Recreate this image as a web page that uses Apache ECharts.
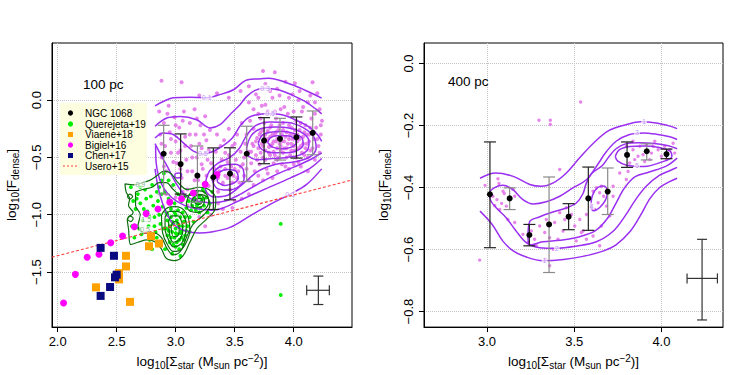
<!DOCTYPE html>
<html>
<head>
<meta charset="utf-8">
<script src="https://cdn.jsdelivr.net/npm/echarts@6.0.0/dist/echarts.min.js"></script>
<style>
  html, body { margin: 0; padding: 0; background: #fff; }
  #chart { width: 747px; height: 375px; }
</style>
</head>
<body>
<div id="chart"></div>
<script>
// ---- left panel (100 pc) ----
const leftX = [2.898, 3.042, 3.184, 3.319, 3.460, 3.602, 3.749, 3.884, 4.023, 4.161];
const leftY = [-0.468, -0.558, -0.659, -0.673, -0.642, -0.468, -0.353, -0.338, -0.324, -0.286];
const leftHi = [-0.22, -0.295, -0.40, -0.417, -0.416, -0.228, -0.153, -0.159, -0.147, -0.095];
const leftLo = [-0.82, -0.82, -0.89, -0.954, -0.87, -0.71, -0.555, -0.523, -0.506, -0.477];
const leftDark = [0, 1, 0, 1, 1, 0, 1, 0, 1, 0];
const leftCross = [4.209, -1.659, 4.110, 4.302, -1.783, -1.535];

const bigielX = [2.05, 2.15, 2.25, 2.35, 2.45, 2.55, 2.65, 2.75, 2.85, 2.95, 3.05, 3.15, 3.25, 3.35];
const bigielY = [-1.77, -1.52, -1.37, -1.345, -1.245, -1.185, -1.105, -0.99, -0.95, -0.89, -0.86, -0.81, -0.735, -0.65];
const viaeneX = [2.325, 2.52, 2.52, 2.579, 2.579, 2.613, 2.774, 2.791, 2.859];
const viaeneY = [-1.633, -1.564, -1.509, -1.451, -1.358, -1.760, -1.275, -1.188, -1.251];
const chenX = [2.364, 2.364, 2.444, 2.477, 2.486, 2.50];
const chenY = [-1.289, -1.708, -1.630, -1.358, -1.546, -1.523];
const useroX = [1.95, 4.5];
const useroY = [-1.370, -0.695];

const quer = [[2.62,-0.76],[2.64,-0.88],[2.66,-0.95],[2.63,-1.10],[2.65,-1.20],[2.68,-0.82],[2.70,-0.90],[2.72,-1.05],
  [2.71,-1.17],[2.74,-0.78],[2.75,-0.86],[2.76,-0.97],[2.77,-1.10],[2.78,-1.22],[2.80,-0.74],[2.81,-0.92],[2.82,-1.02],
  [2.83,-1.15],[2.84,-0.80],[2.85,-0.88],[2.86,-1.00],[2.87,-1.08],[2.87,-1.25],[2.88,-0.70],[2.89,-0.93],[2.90,-0.64],
  [2.90,-1.12],[2.91,-0.80],[2.91,-1.30],[2.92,-0.98],[2.93,-1.05],[2.93,-1.18],[2.94,-0.86],[2.95,-1.10],[2.95,-1.24],
  [2.96,-0.95],[2.96,-1.02],[2.97,-1.15],[2.97,-1.34],[2.98,-0.74],[2.98,-1.08],[2.99,-1.20],[2.99,-0.90],[3.00,-1.00],
  [3.00,-1.12],[3.00,-1.28],[3.01,-1.05],[3.01,-1.17],[3.02,-0.82],[3.02,-0.96],[3.03,-1.10],[3.03,-1.22],[3.04,-1.02],
  [3.04,-1.36],[3.05,-0.88],[3.05,-1.14],[3.06,-0.98],[3.06,-1.26],[3.07,-1.06],[3.08,-0.84],[3.08,-1.18],[3.09,-0.94],
  [3.10,-1.10],[3.11,-0.88],[3.12,-1.02],[3.13,-0.82],[3.14,-0.92],[3.15,-1.06],[3.16,-0.86],[3.17,-0.96],[3.18,-0.80],
  [3.19,-0.90],[3.20,-0.84],[3.21,-0.94],[3.22,-0.88],[3.23,-0.78],[3.24,-0.92],[3.26,-0.85],[3.27,-0.98],[3.29,-0.90],
  [3.31,-0.80],[3.12,-1.15],[2.94,-0.70],[2.86,-0.76],[2.80,-1.30],[3.89,-1.08],[3.89,-1.70],
  [2.93,-1.00],[2.94,-1.14],[2.96,-1.20],[2.97,-1.06],[2.98,-1.26],[2.99,-0.98],[3.00,-1.16],[3.01,-1.24],[3.02,-1.08],
  [3.03,-1.30],[3.04,-1.16],[3.05,-1.20],[3.06,-1.10],[3.07,-1.22],[3.08,-1.02],[3.09,-1.14],[2.92,-1.12],[2.95,-0.90],
  [3.13,-0.96],[3.15,-0.88],[3.18,-0.92],[3.20,-0.98],[3.23,-0.86],[3.25,-0.80],[2.70,-0.76],[2.73,-0.95],[2.79,-0.84],
  [2.82,-1.10],[2.85,-0.95],[2.88,-0.82],[2.84,-1.20],[2.78,-1.02],[2.69,-1.12],[2.67,-0.86]];

const leftPix = [[3.60,-0.30],[3.62,-0.45],[3.63,-0.18],[3.64,-0.55],[3.65,-0.38],[3.66,-0.25],[3.67,-0.62],[3.68,-0.48],
  [3.69,-0.33],[3.70,-0.12],[3.70,-0.42],[3.71,-0.56],[3.72,-0.28],[3.73,-0.38],[3.73,-0.05],[3.74,-0.50],[3.75,-0.33],
  [3.75,-0.20],[3.76,-0.44],[3.77,-0.60],[3.77,-0.36],[3.78,-0.27],[3.78,-0.10],[3.79,-0.41],[3.80,-0.48],[3.80,-0.32],
  [3.81,-0.22],[3.82,-0.38],[3.82,0.02],[3.83,-0.45],[3.83,-0.55],[3.84,-0.30],[3.85,-0.36],[3.85,-0.16],[3.86,-0.42],
  [3.87,-0.26],[3.87,-0.50],[3.88,-0.34],[3.89,-0.08],[3.89,-0.40],[3.90,-0.30],[3.91,-0.46],[3.91,-0.20],[3.92,-0.36],
  [3.93,-0.58],[3.94,-0.28],[3.94,-0.42],[3.95,-0.12],[3.96,-0.34],[3.97,-0.48],[3.98,-0.24],[3.98,-0.38],[3.99,0.05],
  [4.00,-0.30],[4.01,-0.44],[4.02,-0.18],[4.03,-0.36],[4.04,-0.54],[4.05,-0.26],[4.06,-0.40],[4.07,-0.10],[4.08,-0.32],
  [4.09,-0.48],[4.10,-0.22],[4.11,-0.38],[4.12,-0.02],[4.13,-0.30],[4.14,-0.44],[4.15,-0.16],[4.17,-0.34],[4.18,-0.52],
  [4.19,-0.24],[4.21,-0.40],[4.22,-0.08],[4.23,-0.30],[4.24,-0.18],
  [3.55,0.08],[3.62,0.12],[3.68,0.05],[3.74,0.254],[3.76,0.14],[3.84,0.243],[3.86,0.10],[3.93,0.16],[4.01,0.147],
  [4.05,0.08],[4.16,0.155],[4.20,0.06],[2.88,0.168],[3.05,0.156],[3.20,0.04],[3.35,0.06],[3.45,0.02],
  [3.30,-0.55],[3.32,-0.70],[3.34,-0.45],[3.36,-0.80],[3.37,-0.62],[3.39,-0.52],[3.40,-0.72],[3.41,-0.35],[3.42,-0.60],
  [3.44,-0.68],[3.45,-0.48],[3.46,-0.78],[3.47,-0.58],[3.48,-0.40],[3.49,-0.66],[3.50,-0.88],[3.51,-0.52],[3.52,-0.30],
  [3.53,-0.62],[3.54,-0.72],[3.55,-0.45],[3.56,-0.20],[3.57,-0.56],[3.58,-0.66],[3.59,-0.38],[3.40,-0.95],[3.30,-1.0],
  [3.45,-0.25],[3.35,-0.30],
  [2.86,-0.10],[2.87,-0.30],[2.88,-0.50],[2.90,-0.20],[2.91,-0.40],[2.92,-0.62],[2.94,-0.05],[2.95,-0.28],[2.96,-0.46],
  [2.97,-0.75],[2.99,-0.15],[3.00,-0.36],[3.01,-0.55],[3.03,-0.24],[3.04,-0.44],[3.05,-0.68],[3.07,-0.10],[3.08,-0.32],
  [3.09,-0.52],[3.10,-0.78],[3.12,-0.20],[3.13,-0.40],[3.14,-0.62],[3.16,-0.08],[3.17,-0.30],[3.18,-0.50],[3.19,-0.70],
  [3.21,-0.22],[3.22,-0.42],[3.23,-0.60],[3.25,-0.14],[3.26,-0.35],[3.27,-0.52],[3.28,-0.75],[3.29,-0.26],[3.10,-0.92],
  [3.20,-1.02],[3.25,-1.10],
  [3.66,-0.40],[3.68,-0.36],[3.69,-0.52],[3.71,-0.30],[3.72,-0.46],[3.74,-0.26],[3.74,-0.40],[3.76,-0.30],[3.76,-0.52],
  [3.78,-0.34],[3.79,-0.46],[3.80,-0.24],[3.81,-0.40],[3.82,-0.30],[3.83,-0.36],[3.84,-0.48],[3.85,-0.28],[3.86,-0.34],
  [3.86,-0.52],[3.88,-0.38],[3.88,-0.22],[3.89,-0.44],[3.90,-0.36],[3.91,-0.26],[3.92,-0.42],[3.93,-0.32],[3.94,-0.50],
  [3.95,-0.38],[3.96,-0.22],[3.97,-0.30],[3.98,-0.44],[3.99,-0.34],[4.00,-0.40],[4.01,-0.26],[4.02,-0.50],[4.03,-0.30],
  [4.04,-0.42],[4.05,-0.34],[4.06,-0.20],[4.07,-0.46],[4.08,-0.38],[4.09,-0.28],[4.10,-0.42],[4.11,-0.30],[4.12,-0.50],
  [4.13,-0.36],[4.14,-0.24],[4.16,-0.42],[4.17,-0.28],[4.18,-0.12],[4.20,-0.34],[4.22,-0.46],[4.23,-0.22],
  [3.62,-0.02],[3.66,-0.08],[3.70,0.02],[3.72,-0.16],[3.76,-0.04],[3.80,0.08],[3.84,-0.10],[3.88,0.04],[3.92,-0.06],
  [3.96,0.02],[4.00,-0.10],[4.04,0.00],[4.08,-0.06],[4.14,0.04],[4.18,-0.02],
  [3.58,-0.50],[3.60,-0.60],[3.62,-0.70],[3.64,-0.45],[3.66,-0.74],[3.70,-0.66],[3.74,-0.70],[3.78,-0.64],[3.82,-0.68],
  [3.86,-0.62],[3.90,-0.56],[3.96,-0.60],[4.00,-0.56],[4.06,-0.58],[4.12,-0.62],
  [3.33,-0.60],[3.36,-0.68],[3.38,-0.58],[3.42,-0.66],[3.44,-0.54],[3.46,-0.64],[3.48,-0.72],[3.50,-0.60],[3.52,-0.68],
  [3.55,-0.58],[3.38,-0.40],[3.42,-0.46],[3.50,-0.38],[3.36,-0.90],[3.48,-0.94],[3.56,-0.86],[3.62,-0.82],
  [2.88,-0.38],[2.90,-0.58],[2.93,-0.12],[2.96,-0.34],[2.98,-0.54],[3.00,-0.22],[3.02,-0.46],[3.04,-0.60],[3.06,-0.18],
  [3.08,-0.40],[3.10,-0.62],[3.12,-0.30],[3.14,-0.50],[3.16,-0.70],[3.18,-0.16],[3.20,-0.38],[3.22,-0.56],[3.24,-0.30],
  [3.26,-0.66],[3.28,-0.44],[2.92,-0.82],[3.00,-0.85],[3.06,-0.80],[3.15,-0.86]];

// violet density contours, left
const lc1u = [[2.825,-0.05],[2.90,-0.01],[2.98,0.02],[3.12,0.025],[3.26,0.02],[3.38,0.05],[3.49,0.09],[3.59,0.17],
  [3.70,0.185],[3.79,0.19],[3.87,0.176],[4.01,0.125],[4.12,0.075],[4.237,0.017]];
const lc1l = [[2.825,-0.60],[2.86,-0.80],[2.92,-0.98],[2.99,-1.09],[3.08,-1.14],[3.20,-1.16],[3.29,-1.153],[3.46,-1.11],
  [3.63,-1.01],[3.80,-0.91],[3.97,-0.82],[4.11,-0.735],[4.237,-0.60]];
const lc2u = [[2.825,-0.228],[2.924,-0.156],[3.037,-0.142],[3.178,-0.171],[3.291,-0.243],[3.376,-0.214],[3.46,-0.127],
  [3.545,-0.04],[3.60,0.03],[3.672,0.085],[3.757,0.104],[3.87,0.09],[3.983,0.046],[4.096,-0.012],[4.195,-0.084],[4.237,-0.12]];
const lc2l = [[2.83,-0.40],[2.835,-0.55],[2.881,-0.734],[2.966,-0.85],[3.079,-0.92],[3.192,-0.95],[3.305,-0.96],
  [3.39,-0.945],[3.573,-0.86],[3.771,-0.77],[3.969,-0.68],[4.138,-0.595],[4.237,-0.51]];
const lc3u = [[2.825,-0.33],[2.895,-0.286],[2.98,-0.30],[3.065,-0.373],[3.15,-0.445],[3.23,-0.47],[3.31,-0.45],
  [3.40,-0.40],[3.48,-0.33],[3.55,-0.22],[3.62,-0.15],[3.70,-0.125],[3.77,-0.12],[3.90,-0.127],[4.01,-0.17],
  [4.12,-0.228],[4.20,-0.30],[4.237,-0.36]];
const lc3l = [[2.825,-0.38],[2.87,-0.47],[2.93,-0.58],[3.0,-0.72],[3.08,-0.83],[3.18,-0.88],[3.30,-0.895],[3.42,-0.88],
  [3.55,-0.82],[3.70,-0.73],[3.85,-0.65],[4.0,-0.585],[4.13,-0.525],[4.237,-0.46]];
const lc4 = [[3.25,-0.74],[3.28,-0.63],[3.36,-0.55],[3.46,-0.50],[3.54,-0.42],[3.60,-0.31],[3.68,-0.22],[3.80,-0.19],
  [3.95,-0.195],[4.08,-0.24],[4.17,-0.32],[4.19,-0.42],[4.13,-0.50],[4.0,-0.54],[3.85,-0.56],[3.70,-0.62],[3.56,-0.74],
  [3.44,-0.83],[3.33,-0.845],[3.26,-0.80],[3.25,-0.74]];
const le3 = [[3.60,-0.42],[3.64,-0.31],[3.72,-0.25],[3.84,-0.235],[3.97,-0.245],[4.08,-0.29],[4.13,-0.36],[4.12,-0.43],
  [4.05,-0.48],[3.94,-0.50],[3.82,-0.51],[3.70,-0.52],[3.62,-0.49],[3.60,-0.42]];
const le2 = [[3.70,-0.38],[3.73,-0.31],[3.80,-0.28],[3.90,-0.275],[4.00,-0.29],[4.07,-0.33],[4.08,-0.39],[4.03,-0.44],
  [3.94,-0.46],[3.82,-0.46],[3.73,-0.43],[3.70,-0.38]];
const le1 = [[3.78,-0.37],[3.80,-0.33],[3.86,-0.31],[3.94,-0.31],[4.00,-0.33],[4.02,-0.37],[3.98,-0.41],[3.90,-0.425],
  [3.82,-0.41],[3.78,-0.37]];
const ls1 = [[3.31,-0.70],[3.33,-0.62],[3.40,-0.57],[3.50,-0.56],[3.57,-0.60],[3.58,-0.68],[3.54,-0.75],[3.44,-0.785],
  [3.35,-0.77],[3.31,-0.70]];
const ls2 = [[3.35,-0.69],[3.37,-0.63],[3.44,-0.605],[3.51,-0.62],[3.53,-0.68],[3.50,-0.72],[3.42,-0.745],[3.36,-0.72],[3.35,-0.69]];
const lsm = [[2.99,-0.66],[3.00,-0.64],[3.03,-0.635],[3.05,-0.65],[3.04,-0.675],[3.01,-0.68],[2.99,-0.66]];

// green density contours, left
const g1 = [[2.57,-0.73],[2.65,-0.74],[2.72,-0.72],[2.78,-0.70],[2.84,-0.66],[2.90,-0.62],[2.96,-0.64],[3.02,-0.72],
  [3.10,-0.78],[3.20,-0.76],[3.28,-0.78],[3.34,-0.86],[3.33,-0.96],[3.26,-1.04],[3.18,-1.12],[3.12,-1.24],[3.06,-1.36],
  [2.99,-1.40],[2.92,-1.38],[2.88,-1.30],[2.83,-1.24],[2.76,-1.22],[2.68,-1.24],[2.62,-1.26],[2.60,-1.12],[2.59,-1.04],
  [2.64,-0.98],[2.60,-0.92],[2.61,-0.86],[2.58,-0.80],[2.57,-0.73]];
const g2 = [[2.66,-0.80],[2.72,-0.78],[2.80,-0.76],[2.86,-0.72],[2.92,-0.72],[2.98,-0.78],[3.06,-0.84],[3.16,-0.82],
  [3.26,-0.84],[3.29,-0.92],[3.24,-1.00],[3.15,-1.08],[3.09,-1.20],[3.04,-1.32],[2.98,-1.35],[2.93,-1.30],[2.88,-1.20],
  [2.82,-1.16],[2.74,-1.16],[2.68,-1.10],[2.70,-1.00],[2.66,-0.92],[2.66,-0.80]];
const g3 = [[2.88,-1.00],[2.93,-0.94],[3.00,-0.93],[3.07,-0.96],[3.11,-1.04],[3.12,-1.14],[3.09,-1.24],[3.04,-1.31],
  [2.98,-1.32],[2.93,-1.26],[2.89,-1.16],[2.88,-1.00]];
const g4 = [[2.91,-1.02],[2.95,-0.97],[3.01,-0.97],[3.06,-1.00],[3.09,-1.08],[3.08,-1.18],[3.04,-1.26],[2.98,-1.28],
  [2.94,-1.22],[2.91,-1.12],[2.91,-1.02]];
const g5 = [[2.94,-1.06],[2.97,-1.01],[3.02,-1.01],[3.05,-1.06],[3.06,-1.14],[3.03,-1.22],[2.98,-1.24],[2.95,-1.18],[2.94,-1.06]];
const g6 = [[2.96,-1.10],[2.99,-1.06],[3.02,-1.07],[3.03,-1.13],[3.01,-1.19],[2.98,-1.19],[2.96,-1.10]];
const gu1 = [[3.09,-0.90],[3.12,-0.82],[3.18,-0.79],[3.25,-0.81],[3.28,-0.88],[3.25,-0.95],[3.18,-0.98],[3.11,-0.96],[3.09,-0.90]];
const gu2 = [[3.13,-0.89],[3.16,-0.84],[3.21,-0.83],[3.245,-0.87],[3.23,-0.92],[3.18,-0.94],[3.14,-0.93],[3.13,-0.89]];
const gu3 = [[3.16,-0.885],[3.18,-0.86],[3.215,-0.86],[3.225,-0.885],[3.20,-0.91],[3.17,-0.905],[3.16,-0.885]];
const gl1 = [[2.59,-0.84],[2.61,-0.82],[2.635,-0.84],[2.61,-0.865],[2.59,-0.84]];
const gl2 = [[2.59,-1.04],[2.61,-1.01],[2.64,-1.03],[2.62,-1.06],[2.59,-1.04]];

// contour level labels, left
const lLabX = [3.263, 3.757, 3.80, 3.97, 3.23];
const lLabY = [0.02, 0.104, -0.12, -0.82, -0.47];
const lLabT = ['0.1', '0.3', '0.5', '0.1', '0.5'];
const gLabX = [2.70, 2.74, 2.75];
const gLabY = [-0.74, -1.13, -1.04];
const gLabT = ['0.9', '0.5', '1.5'];

// ---- right panel (400 pc) ----
const rightX = [3.017, 3.130, 3.243, 3.356, 3.468, 3.581, 3.692, 3.803, 3.916, 4.029];
const rightY = [-0.422, -0.435, -0.553, -0.519, -0.494, -0.435, -0.413, -0.295, -0.283, -0.292];
const rightHi = [-0.253, -0.401, -0.519, -0.366, -0.452, -0.334, -0.337, -0.253, -0.259, -0.276];
const rightLo = [-0.594, -0.471, -0.588, -0.674, -0.536, -0.538, -0.487, -0.335, -0.311, -0.307];
const rightDark = [1, 0, 1, 0, 1, 1, 0, 1, 0, 1];
const rightCross = [4.233, -0.693, 4.147, 4.321, -0.827, -0.567];

const rightPix = [[2.958,-0.634],[3.537,-0.124],[3.298,-0.183],[3.363,-0.183],[3.363,-0.197],[2.989,-0.393],
  [3.063,-0.372],[3.069,-0.387],[3.034,-0.428],[3.057,-0.439],[3.084,-0.451],[3.099,-0.419],[3.111,-0.460],[3.044,-0.458],
  [3.149,-0.406],[3.159,-0.428],[3.120,-0.503],[3.159,-0.513],[3.092,-0.412],[3.073,-0.471],
  [3.254,-0.540],[3.273,-0.567],[3.235,-0.578],[3.302,-0.524],[3.331,-0.545],[3.359,-0.562],[3.379,-0.599],[3.340,-0.503],
  [3.388,-0.513],[3.417,-0.481],[3.446,-0.503],[3.455,-0.465],[3.484,-0.487],[3.503,-0.524],[3.532,-0.503],[3.541,-0.545],
  [3.570,-0.567],[3.512,-0.572],[3.436,-0.540],[3.407,-0.567],[3.359,-0.652],[3.335,-0.631],[3.417,-0.342],[3.206,-0.551],
  [3.283,-0.588],
  [3.608,-0.412],[3.627,-0.401],[3.646,-0.417],[3.656,-0.396],[3.669,-0.428],[3.637,-0.449],[3.618,-0.471],[3.685,-0.460],
  [3.723,-0.428],[3.704,-0.492],[3.656,-0.524],[3.608,-0.556],[3.646,-0.588],[3.570,-0.487],[3.723,-0.396],[3.761,-0.353],
  [3.799,-0.374],[3.551,-0.540],
  [3.799,-0.267],[3.837,-0.278],[3.866,-0.299],[3.876,-0.267],[3.914,-0.262],[3.943,-0.289],[3.952,-0.267],[3.981,-0.278],
  [4.000,-0.299],[4.019,-0.267],[4.048,-0.278],[4.067,-0.257],[4.076,-0.289],[3.847,-0.310],[3.895,-0.294],[3.933,-0.310],
  [3.818,-0.321],[3.904,-0.316],[4.029,-0.310],[3.962,-0.251],[3.837,-0.251],[3.809,-0.348]];

const rc1u = [[2.96,-0.37],[3.05,-0.353],[3.15,-0.364],[3.245,-0.39],[3.31,-0.396],[3.38,-0.385],[3.455,-0.353],
  [3.53,-0.305],[3.61,-0.257],[3.70,-0.216],[3.80,-0.197],[3.88,-0.188],[3.97,-0.192],[4.05,-0.202],[4.09,-0.21]];
const rc1l = [[2.96,-0.476],[3.03,-0.519],[3.09,-0.572],[3.15,-0.604],[3.23,-0.625],[3.32,-0.636],[3.44,-0.632],
  [3.55,-0.622],[3.665,-0.605],[3.74,-0.585],[3.82,-0.542],[3.88,-0.49],[3.935,-0.435],[3.99,-0.40],[4.05,-0.38],[4.09,-0.37]];
const rc2 = [[4.09,-0.245],[4.048,-0.236],[3.971,-0.228],[3.895,-0.224],[3.818,-0.229],[3.742,-0.25],[3.685,-0.284],
  [3.627,-0.332],[3.570,-0.375],[3.493,-0.401],[3.417,-0.428],[3.340,-0.446],[3.264,-0.453],[3.206,-0.439],[3.149,-0.407],
  [3.092,-0.393],[3.044,-0.400],[3.015,-0.418],[3.019,-0.439],[3.054,-0.466],[3.111,-0.498],[3.168,-0.541],[3.226,-0.578],
  [3.302,-0.594],[3.398,-0.596],[3.512,-0.589],[3.627,-0.575],[3.723,-0.541],[3.790,-0.493],[3.857,-0.435],[3.914,-0.395],
  [3.99,-0.36],[4.05,-0.345],[4.09,-0.335]];
const rc3 = [[4.09,-0.275],[4.04,-0.265],[3.96,-0.258],[3.87,-0.256],[3.79,-0.26],[3.74,-0.275],[3.70,-0.30],
  [3.66,-0.33],[3.60,-0.355],[3.57,-0.385],[3.55,-0.42],[3.512,-0.45],[3.455,-0.466],[3.36,-0.482],[3.30,-0.495],
  [3.245,-0.51],[3.235,-0.56],[3.25,-0.585],[3.32,-0.575],[3.42,-0.57],[3.52,-0.56],[3.62,-0.54],[3.69,-0.50],
  [3.74,-0.45],[3.79,-0.40],[3.85,-0.365],[3.93,-0.35],[4.03,-0.33],[4.09,-0.305]];
const rc4 = [[3.735,-0.30],[3.76,-0.278],[3.82,-0.268],[3.90,-0.266],[3.98,-0.27],[4.05,-0.283],[4.06,-0.30],
  [4.0,-0.318],[3.90,-0.332],[3.80,-0.328],[3.75,-0.315],[3.735,-0.30]];
const rc4b = [[3.595,-0.465],[3.605,-0.425],[3.635,-0.40],[3.67,-0.395],[3.69,-0.41],[3.68,-0.44],[3.645,-0.465],
  [3.61,-0.475],[3.595,-0.465]];

const rLabX = [3.90, 3.86, 3.86, 3.60, 3.40, 3.33];
const rLabY = [-0.188, -0.224, -0.33, -0.46, -0.596, -0.636];
const rLabT = ['1', '3', '5', '4', '2', '1'];

const leftTicksX = [2.0, 2.5, 3.0, 3.5, 4.0];
const leftTicksY = [-1.5, -1.0, -0.5, 0.0];
const rightTicksX = [3.0, 3.5, 4.0];
const rightTicksY = [-0.8, -0.6, -0.4, -0.2, 0.0];

const legendNames = ['NGC 1068', 'Querejeta+19', 'Viaene+18', 'Bigiel+16', 'Chen+17', 'Usero+15'];

const FONT = '"Liberation Sans", Arial, sans-serif';
const VIOLET = '#9b30f0';
const PIX = 'rgba(226,112,230,0.85)';
const DKGREEN = '#0f6e0f';

const chart = echarts.init(document.getElementById('chart'), null, { renderer: 'svg' });

const fmt = v => v.toFixed(1).replace('-', '\u2212');
const rich = {
  s: { fontSize: 10, lineHeight: 10, verticalAlign: 'bottom', fontFamily: FONT, color: '#000' },
  p: { fontSize: 10, lineHeight: 10, verticalAlign: 'top', fontFamily: FONT, color: '#000' }
};
const xName = 'log{s|10}[\u03A3{s|star} (M{s|sun} pc{p|\u22122})]';
const yName = 'log{s|10}[F{s|dense}]';

function xAxisOf(idx, min, max, ticks) {
  return {
    type: 'value', gridIndex: idx, min, max,
    axisLine: { show: true, onZero: false, lineStyle: { color: '#000' } },
    axisTick: { show: true, length: 5, customValues: ticks, lineStyle: { color: '#000' } },
    axisLabel: { customValues: ticks, formatter: fmt, color: '#000', fontSize: 13, fontFamily: FONT, margin: 8 },
    splitLine: { show: true, lineStyle: { type: 'dotted', color: '#c4c4c4' } },
    name: xName, nameLocation: 'middle', nameGap: 20,
    nameTextStyle: { fontSize: 13.5, lineHeight: 17, fontFamily: FONT, color: '#000', rich }
  };
}
function yAxisOf(idx, min, max, ticks) {
  return {
    type: 'value', gridIndex: idx, min, max,
    axisLine: { show: true, onZero: false, lineStyle: { color: '#000' } },
    axisTick: { show: true, length: 5, customValues: ticks, lineStyle: { color: '#000' } },
    axisLabel: { customValues: ticks, formatter: fmt, rotate: 90, color: '#000', fontSize: 13, fontFamily: FONT, margin: 9 },
    splitLine: { show: true, lineStyle: { type: 'dotted', color: '#c4c4c4' } },
    name: yName, nameLocation: 'middle', nameGap: 32,
    nameTextStyle: { fontSize: 13.5, lineHeight: 17, fontFamily: FONT, color: '#000', rich }
  };
}

function lineS(data, idx, color, width) {
  return {
    type: 'line', xAxisIndex: idx, yAxisIndex: idx, data, symbol: 'none', smooth: 0.35,
    lineStyle: { color, width }, silent: true, z: 3
  };
}
function scatterS(data, idx, color, size, symbol, z) {
  return {
    type: 'scatter', xAxisIndex: idx, yAxisIndex: idx, data, symbol, symbolSize: size,
    itemStyle: { color, opacity: 1 }, silent: true, z
  };
}
function labelS(xs, ys, ts, idx, color) {
  return {
    type: 'scatter', xAxisIndex: idx, yAxisIndex: idx, symbolSize: 0, silent: true, z: 4,
    data: xs.map((x, i) => ({ value: [x, ys[i]], name: ts[i] })),
    label: { show: true, position: 'inside', formatter: '{b}', fontSize: 7, fontFamily: FONT, color,
      backgroundColor: 'rgba(255,255,255,0.85)', padding: [0, 1] }
  };
}
const zip = (xs, ys) => xs.map((x, i) => [x, ys[i]]);

function errorBars(idx, xs, lo, hi, dark, capW) {
  return {
    type: 'custom', xAxisIndex: idx, yAxisIndex: idx, z: 6, silent: true,
    data: xs.map((x, i) => [x, lo[i], hi[i], dark[i]]),
    encode: { x: 0, y: [1, 2] },
    renderItem: (params, api) => {
      const top = api.coord([api.value(0), api.value(2)]);
      const bot = api.coord([api.value(0), api.value(1)]);
      const style = { stroke: api.value(3) ? '#222' : '#8a8a8a', lineWidth: 1.2 };
      return { type: 'group', children: [
        { type: 'line', shape: { x1: top[0], y1: top[1], x2: bot[0], y2: bot[1] }, style },
        { type: 'line', shape: { x1: top[0] - capW / 2, y1: top[1], x2: top[0] + capW / 2, y2: top[1] }, style },
        { type: 'line', shape: { x1: bot[0] - capW / 2, y1: bot[1], x2: bot[0] + capW / 2, y2: bot[1] }, style }
      ] };
    }
  };
}
function crossS(idx, c, capW) {
  return {
    type: 'custom', xAxisIndex: idx, yAxisIndex: idx, z: 6, silent: true,
    data: [c], encode: { x: [0, 2, 3], y: [1, 4, 5] },
    renderItem: (params, api) => {
      const l = api.coord([api.value(2), api.value(1)]);
      const r = api.coord([api.value(3), api.value(1)]);
      const b = api.coord([api.value(0), api.value(4)]);
      const t = api.coord([api.value(0), api.value(5)]);
      const style = { stroke: '#333', lineWidth: 1.2 };
      const h = capW / 2;
      return { type: 'group', children: [
        { type: 'line', shape: { x1: l[0], y1: l[1], x2: r[0], y2: r[1] }, style },
        { type: 'line', shape: { x1: t[0], y1: t[1], x2: b[0], y2: b[1] }, style },
        { type: 'line', shape: { x1: l[0], y1: l[1] - h, x2: l[0], y2: l[1] + h }, style },
        { type: 'line', shape: { x1: r[0], y1: r[1] - h, x2: r[0], y2: r[1] + h }, style },
        { type: 'line', shape: { x1: t[0] - h, y1: t[1], x2: t[0] + h, y2: t[1] }, style },
        { type: 'line', shape: { x1: b[0] - h, y1: b[1], x2: b[0] + h, y2: b[1] }, style }
      ] };
    }
  };
}

const series = [];
// left panel
series.push(scatterS(leftPix, 0, PIX, 4, 'circle', 1));
series.push(scatterS(quer, 0, '#00ee00', 3.8, 'circle', 2));
[lc1u, lc1l, lc2u, lc2l, lc3u, lc3l, lc4, le3, le2, le1, ls1, ls2, lsm].forEach(d => series.push(lineS(d, 0, VIOLET, 1.5)));
[g1, g2, g3, g4, g5, g6, gu1, gu2, gu3, gl1, gl2].forEach(d => series.push(lineS(d, 0, DKGREEN, 1.2)));
series.push(labelS(lLabX, lLabY, lLabT, 0, '#b27ef0'));
series.push(labelS(gLabX, gLabY, gLabT, 0, '#6a9a6a'));
series.push(scatterS(zip(bigielX, bigielY), 0, '#ff00ff', 7, 'circle', 5));
series.push(scatterS(zip(viaeneX, viaeneY), 0, '#ffa200', 8, 'rect', 5));
series.push(scatterS(zip(chenX, chenY), 0, '#0a0a80', 8, 'rect', 5));
series.push({
  type: 'line', xAxisIndex: 0, yAxisIndex: 0, data: zip(useroX, useroY), symbol: 'none', silent: true, z: 5,
  lineStyle: { color: '#ff3b3b', width: 1.1, type: [3, 2] }
});
series.push(errorBars(0, leftX, leftLo, leftHi, leftDark, 12));
series.push(scatterS(zip(leftX, leftY), 0, '#000', 6, 'circle', 7));
series.push(crossS(0, leftCross, 10));
// right panel
series.push(scatterS(rightPix, 1, PIX, 3.4, 'circle', 1));
[rc1u, rc1l, rc2, rc3, rc4, rc4b].forEach(d => series.push(lineS(d, 1, VIOLET, 1.5)));
series.push(labelS(rLabX, rLabY, rLabT, 1, '#b27ef0'));
series.push(errorBars(1, rightX, rightLo, rightHi, rightDark, 12));
series.push(scatterS(zip(rightX, rightY), 1, '#000', 6, 'circle', 7));
series.push(crossS(1, rightCross, 10));

// legend box (left panel)
const legRows = [113, 124, 134.5, 145, 155.5, 166];
const legendEls = [{ type: 'rect', shape: { x: 60, y: 103, width: 87, height: 72 }, style: { fill: '#fdfddf' }, z: 20 }];
const legSym = [
  { type: 'circle', fill: '#000' }, { type: 'circle', fill: '#00ee00' }, { type: 'rect', fill: '#ffa200' },
  { type: 'circle', fill: '#ff00ff' }, { type: 'rect', fill: '#0a0a80' }, { type: 'dash', fill: '#ff3b3b' }
];
legendNames.forEach((name, i) => {
  const y = legRows[i], s = legSym[i];
  if (s.type === 'circle') legendEls.push({ type: 'circle', shape: { cx: 70.5, cy: y, r: 2.6 }, style: { fill: s.fill }, z: 21 });
  else if (s.type === 'rect') legendEls.push({ type: 'rect', shape: { x: 68, y: y - 2.5, width: 5, height: 5 }, style: { fill: s.fill }, z: 21 });
  else legendEls.push({ type: 'line', shape: { x1: 63, y1: y, x2: 78, y2: y }, style: { stroke: s.fill, lineWidth: 1, lineDash: [2, 2] }, z: 21 });
  legendEls.push({ type: 'text', x: 85, y, style: { text: name, font: '10px ' + FONT, fill: '#000', textVerticalAlign: 'middle' }, z: 21 });
});
legendEls.push({ type: 'text', x: 83, y: 84, style: { text: '100 pc', font: '13.5px ' + FONT, fill: '#000', textVerticalAlign: 'middle' }, z: 21 });
legendEls.push({ type: 'text', x: 448, y: 81, style: { text: '400 pc', font: '13.5px ' + FONT, fill: '#000', textVerticalAlign: 'middle' }, z: 21 });

chart.setOption({
  animation: false,
  backgroundColor: '#fff',
  grid: [
    { left: 52, top: 43, width: 300, height: 285, show: true, borderColor: '#000', borderWidth: 1, backgroundColor: 'transparent' },
    { left: 424, top: 43, width: 299, height: 285, show: true, borderColor: '#000', borderWidth: 1, backgroundColor: 'transparent' }
  ],
  xAxis: [xAxisOf(0, 1.952, 4.494, leftTicksX), xAxisOf(1, 2.639, 4.353, rightTicksX)],
  yAxis: [yAxisOf(0, -1.98, 0.498, leftTicksY), yAxisOf(1, -0.85, 0.066, rightTicksY)],
  graphic: legendEls,
  series
});
</script>
</body>
</html>
